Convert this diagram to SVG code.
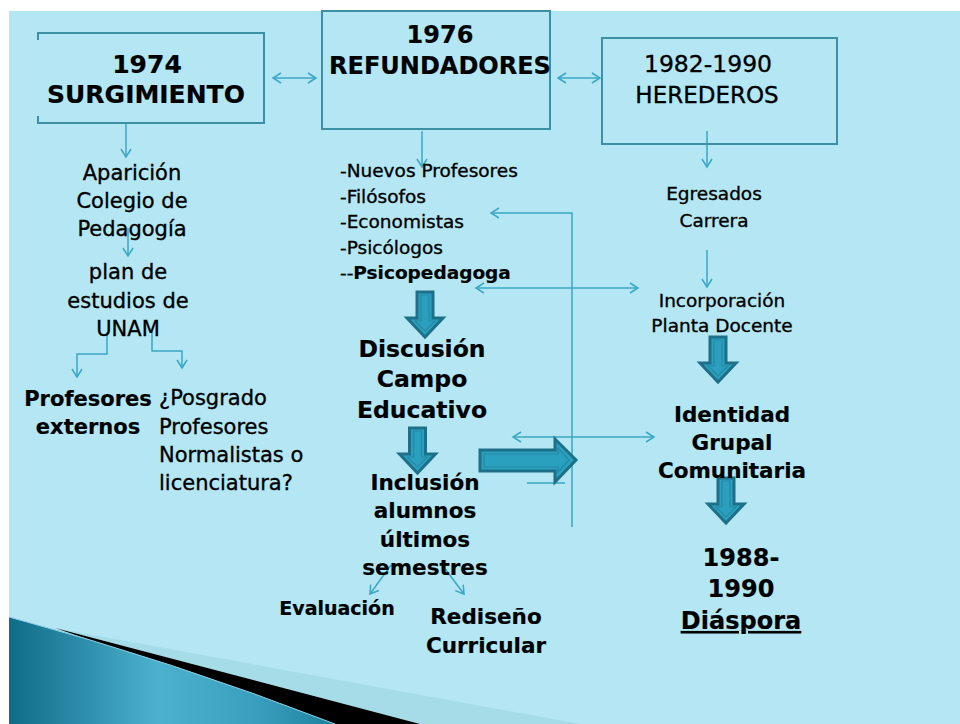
<svg xmlns="http://www.w3.org/2000/svg" width="960" height="724" viewBox="0 0 960 724">
<defs>
<style>
.t{font-family:"DejaVu Sans",Verdana,sans-serif;fill:#000;stroke:#000;stroke-width:0.35;}
.b{font-weight:bold;stroke-width:0.2;}
.m{text-anchor:middle;}
.box{fill:none;stroke:#3d8fa6;stroke-width:2;}
.ln{fill:none;stroke:#3ba7c5;stroke-width:1.5;}
.blk{fill:#2aa0be;stroke:#1e6f88;stroke-width:3;stroke-linejoin:miter;}
.blkin{fill:none;stroke:#2589a5;stroke-width:1.2;}
</style>
<marker id="arr" viewBox="-10 -6 12 12" refX="0" refY="0" markerWidth="12" markerHeight="12" markerUnits="userSpaceOnUse" orient="auto-start-reverse">
<path d="M-8,-5 L0,0 L-8,5" fill="none" stroke="#3ba7c5" stroke-width="1.5"/>
</marker>
<linearGradient id="teal" x1="9" y1="0" x2="340" y2="0" gradientUnits="userSpaceOnUse">
<stop offset="0" stop-color="#0f6c88"/>
<stop offset="0.45" stop-color="#4cb1ce"/>
<stop offset="0.75" stop-color="#3a9fbe"/>
<stop offset="1" stop-color="#1a7f9c"/>
</linearGradient>
<g id="darr">
<polygon class="blk" points="-8,0 8,0 8,26 18,26 0,45 -18,26 -8,26"/>
<polygon class="blkin" points="-4,3 4,3 4,29 10,29 0,39 -10,29 -4,29"/>
</g>
</defs>

<rect x="0" y="0" width="960" height="724" fill="#ffffff"/>
<rect x="9" y="11" width="951" height="713" fill="#b4e7f3"/>
<g id="wedge">
<polygon points="55,628 420,724 580,724" fill="#a6dbe8"/>
<polygon points="55,628 335,724 420,724" fill="#000000"/>
<path d="M9,617 Q170,660 335,724 L9,724 Z" fill="url(#teal)"/>
<path d="M9,617 Q170,660 335,724" fill="none" stroke="#8fd0e2" stroke-width="1"/>
</g>

<g id="connectors">
<line class="ln" x1="273" y1="78" x2="316" y2="78" marker-start="url(#arr)" marker-end="url(#arr)"/>
<line class="ln" x1="558" y1="78" x2="600" y2="78" marker-start="url(#arr)" marker-end="url(#arr)"/>
<line class="ln" x1="126" y1="124" x2="126" y2="157" marker-end="url(#arr)"/>
<line class="ln" x1="422" y1="131" x2="422" y2="167" marker-end="url(#arr)"/>
<line class="ln" x1="707" y1="131" x2="707" y2="167" marker-end="url(#arr)"/>
<line class="ln" x1="128" y1="228" x2="128" y2="256" marker-end="url(#arr)"/>
<path class="ln" d="M107,332 V354 H77 V377" marker-end="url(#arr)"/>
<path class="ln" d="M152,332 V351 H182 V368" marker-end="url(#arr)"/>
<path class="ln" d="M572,527 V213 H491" marker-end="url(#arr)"/>
<line class="ln" x1="476" y1="288" x2="638" y2="288" marker-start="url(#arr)" marker-end="url(#arr)"/>
<line class="ln" x1="513" y1="437" x2="654" y2="437" marker-start="url(#arr)" marker-end="url(#arr)"/>
<line class="ln" x1="527" y1="483" x2="565" y2="483"/>
<line class="ln" x1="391" y1="565" x2="370" y2="594" marker-end="url(#arr)"/>
<line class="ln" x1="443" y1="566" x2="464" y2="594" marker-end="url(#arr)"/>
<line class="ln" x1="707" y1="250" x2="707" y2="287" marker-end="url(#arr)"/>
<use href="#darr" transform="translate(425,292)"/>
<use href="#darr" transform="translate(417.5,428)"/>
<use href="#darr" transform="translate(718,337)"/>
<use href="#darr" transform="translate(726,478)"/>
<polygon class="blk" points="480,450 555,450 555,439 576,460 555,482 555,471 480,471"/>
<polygon class="blkin" points="484,454 558,454 558,448 569,460 558,472 558,467 484,467"/>
</g>

<g id="surgimiento">
<path class="box" d="M38,40 V33 H264 V123 H38 V116"/>
<text class="t b m" x="147" y="73" font-size="25">1974</text>
<text class="t b m" x="146" y="103" font-size="25">SURGIMIENTO</text>
</g>

<g id="refundadores">
<rect class="box" x="322" y="11" width="228" height="118"/>
<text class="t b m" x="440" y="43" font-size="24">1976</text>
<text class="t b m" x="440" y="74" font-size="24">REFUNDADORES</text>
</g>

<g id="herederos">
<rect class="box" x="602" y="38" width="235" height="106"/>
<text class="t m" x="708" y="72" font-size="23.5" stroke-width="0.6">1982-1990</text>
<text class="t m" x="707" y="103" font-size="23" stroke-width="0.6">HEREDEROS</text>
</g>

<g id="aparicion">
<text class="t m" font-size="21"><tspan x="132" y="180">Aparición</tspan><tspan x="132" y="208">Colegio de</tspan><tspan x="132" y="236">Pedagogía</tspan></text>
</g>

<g id="plan">
<text class="t m" font-size="21"><tspan x="128" y="279">plan de</tspan><tspan x="128" y="308">estudios de</tspan><tspan x="128" y="336">UNAM</tspan></text>
</g>

<g id="externos">
<text class="t b m" font-size="21"><tspan x="88" y="406">Profesores</tspan><tspan x="88" y="434">externos</tspan></text>
</g>

<g id="posgrado">
<text class="t" font-size="21"><tspan x="159" y="405">¿Posgrado</tspan><tspan x="159" y="434">Profesores</tspan><tspan x="159" y="462">Normalistas o</tspan><tspan x="159" y="490">licenciatura?</tspan></text>
</g>

<g id="lista">
<text class="t" font-size="18.5"><tspan x="340" y="177">-Nuevos Profesores</tspan><tspan x="340" y="202.5">-Filósofos</tspan><tspan x="340" y="228">-Economistas</tspan><tspan x="340" y="253.5">-Psicólogos</tspan><tspan x="340" y="279">--<tspan class="b">Psicopedagoga</tspan></tspan></text>
</g>

<g id="discusion">
<text class="t b m" font-size="23.5"><tspan x="422" y="357">Discusión</tspan><tspan x="422" y="387">Campo</tspan><tspan x="422" y="418">Educativo</tspan></text>
</g>

<g id="inclusion">
<text class="t b m" font-size="21.5"><tspan x="425" y="490">Inclusión</tspan><tspan x="425" y="518">alumnos</tspan><tspan x="425" y="547">últimos</tspan><tspan x="425" y="575">semestres</tspan></text>
</g>

<g id="evaluacion">
<text class="t b m" x="337" y="615" font-size="19">Evaluación</text>
</g>

<g id="rediseno">
<text class="t b m" font-size="21.5"><tspan x="486" y="624">Rediseño</tspan><tspan x="486" y="653">Curricular</tspan></text>
</g>

<g id="egresados">
<text class="t m" font-size="18.5"><tspan x="714" y="200">Egresados</tspan><tspan x="714" y="227">Carrera</tspan></text>
</g>

<g id="incorporacion">
<text class="t m" font-size="18.5"><tspan x="722" y="307">Incorporación</tspan><tspan x="722" y="332">Planta Docente</tspan></text>
</g>

<g id="identidad">
<text class="t b m" font-size="21.5"><tspan x="732" y="422">Identidad</tspan><tspan x="732" y="450">Grupal</tspan><tspan x="732" y="478">Comunitaria</tspan></text>
</g>

<g id="diaspora">
<text class="t b m" font-size="24"><tspan x="741" y="566">1988-</tspan><tspan x="741" y="597">1990</tspan><tspan x="741" y="629" text-decoration="underline">Diáspora</tspan></text>
</g>
</svg>
